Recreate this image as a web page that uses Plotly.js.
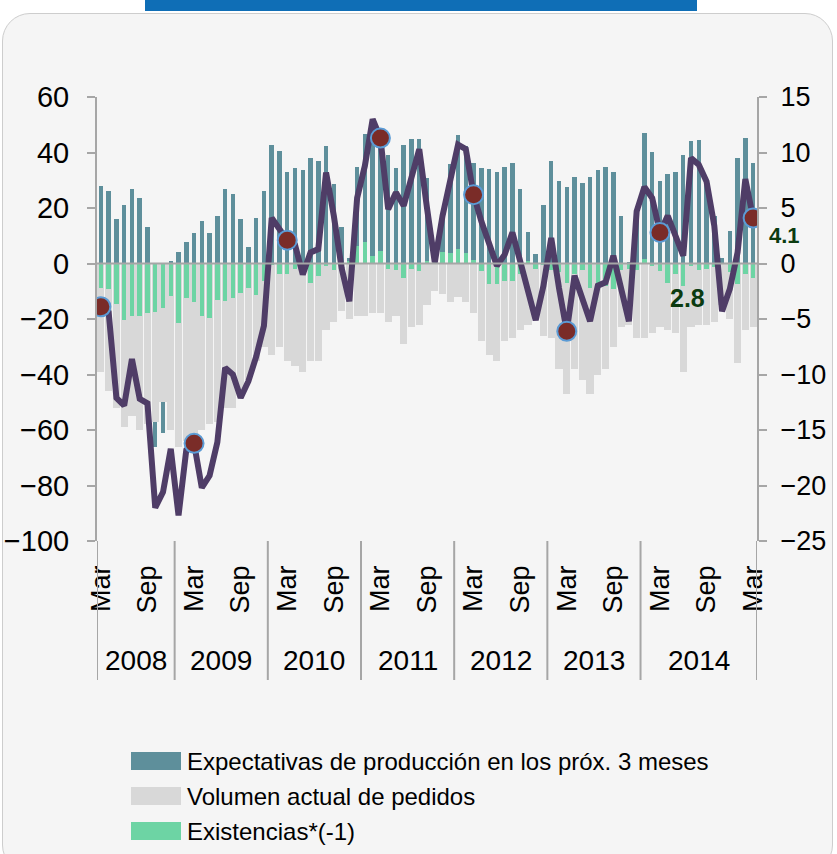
<!DOCTYPE html>
<html>
<head>
<meta charset="utf-8">
<script src="https://cdn.plot.ly/plotly-3.0.1.min.js"></script>
<style>
  html, body { margin:0; padding:0; background:#ffffff; }
  #wrap { position:relative; width:837px; height:854px; overflow:hidden; }
  #panel { position:absolute; left:2px; top:13px; width:831px; height:860px; background:#F5F5F5;
           border:1.5px solid #CDCDCD; border-radius:28px; box-sizing:border-box; }
  #bluebar { position:absolute; left:145px; top:0; width:552px; height:11px; background:#0F6EB6; }
  #chart { position:absolute; left:0; top:0; width:837px; height:854px; }
</style>
</head>
<body>
<div id="wrap">
  <div id="panel"></div>
  <div id="bluebar"></div>
  <div id="chart"></div>
</div>
<script>
// ---- Data (monthly, Mar 2008 .. Mar 2015) ----
const startYear = 2008, startMonth = 3, nMonths = 85;
const monthNames = ['Jan','Feb','Mar','Apr','May','Jun','Jul','Aug','Sep','Oct','Nov','Dec'];

// Expectativas de producción en los próx. 3 meses (left axis)
const expectativas = [
  28, 26, 16, 21, 27, 23.5, 13, -66, -61, 1,
  4.3, 7.8, 11, 15.4, 11, 17, 27, 25, 16, 6, 16.5, 26,
  42.7, 40.6, 32.8, 34.3, 33.7, 38, 37, 42.3, 28.8, 13.3, 2, 34.6,
  46.6, 45, 45, 39, 34.5, 42.7, 44.8, 44.8, 30.7, 2, 16.5, 35.7,
  46.3, 42.3, 36.3, 34.3, 34, 33, 34.6, 36.3, 27, 11.5, 3.4, 21,
  37, 29.7, 27.6, 31.2, 28.9, 31, 33.7, 34.6, 33, 17, 0.7, 19.3,
  47.2, 40.3, 29.7, 32.1, 32.8, 39, 44.1, 44.5, 30, 17, 2, 11.8,
  38, 45.3, 36.3
];
// Volumen actual de pedidos (left axis)
const volumen = [
  -39, -46, -52, -59, -55, -60, -58, -57, -50, -60,
  -66, -64, -64, -60, -58, -57, -52, -52, -46, -42, -35, -30,
  -33, -30, -35, -37, -39, -35, -35, -24, -21, -17, -20, -19,
  -19, -18, -18, -21, -19, -29, -23, -22, -15, -10, -11, -14,
  -12, -14, -18, -28, -33, -35, -28, -27, -24, -22, -20, -26,
  -27, -38, -47, -38, -42, -47, -40, -38, -30, -23, -22, -27,
  -27, -25, -23, -24, -25, -39, -23, -22, -22, -21, -15, -20,
  -36, -24, -23
];
// Existencias*(-1) (left axis)
const existencias = [
  -8.8, -9.3, -14.6, -20.4, -19, -18.9, -17.7, -17.3, -15.9, -11.7,
  -21.6, -12.5, -13.7, -18.9, -19.7, -13.2, -13.5, -12.3, -10.7, -9, -11.3, -6.3,
  -0.5, -3.8, -3.8, -2, -1.5, -6.9, -4.4, -1, -2.4, 0.5, 1, 6.3,
  7.7, 2.7, 4.5, -1.8, -2.4, -5.1, -1.8, -2.7, 1, 1.5, 4, 3.7,
  5.1, 3.8, 1.3, -2.7, -7.4, -7.4, -6.3, -6.3, -3.8, 1, -1.8, -0.5,
  -2.4, -3, -6.9, -3.8, -2.4, -8.7, -6.9, -8, -9.2, -2.4, -1.8, -2.4,
  1.5, -1, -2.7, -6.9, -3.9, -8.1, -1, -2.4, -1.8, -1.2, 0, -3,
  -7.5, -3.8, -5.1
];
// Indicator line (right axis)
const indicador = [
  -3.9, -4.4, -12.1, -12.8, -8.6, -12.2, -12.6, -22.0, -20.6, -16.7,
  -22.7, -16.8, -16.2, -20.2, -19.1, -16.1, -9.4, -10.0, -12.1, -10.6, -8.4, -5.6,
  4.1, 3.2, 2.1, 1.7, -1.0, 1.0, 1.3, 8.2, 4.3, -0.4, -3.4, 5.9,
  8.8, 13.0, 11.3, 4.9, 6.4, 5.2, 7.7, 10.3, 5.0, 0.1, 4.3, 7.4,
  10.7, 10.3, 6.2, 3.8, 1.7, -0.2, 0.8, 2.8, 0.2, -2.7, -5.1, -2.0,
  2.3, -2.2, -6.1, -1.1, -3.0, -5.2, -2.0, -1.7, 0.7, -2.3, -5.2, 4.7,
  6.9, 5.9, 2.8, 4.3, 2.6, 0.7, 9.5, 8.9, 7.4, 3.4, -4.3, -2.3,
  1.0, 7.6, 4.1
];

const seriesNames = ['Expectativas de producción en los próx. 3 meses', 'Volumen actual de pedidos', 'Existencias*(-1)'];
const yearLabels = ['2008','2009','2010','2011','2012','2013','2014'];
const labelledPoints = ['2014-03', '2015-03'];   // value labels shown on the line

// categories
const cats = [];
for (let k = 0; k < nMonths; k++) {
  const m0 = startMonth - 1 + k;
  const y = startYear + Math.floor(m0 / 12);
  const m = (m0 % 12) + 1;
  cats.push(y + '-' + String(m).padStart(2, '0'));
}
const monthOf = c => parseInt(c.slice(5), 10);
const tickvals = cats.filter(c => monthOf(c) === 3 || monthOf(c) === 9);
const ticktext = tickvals.map(c => monthNames[monthOf(c) - 1]);
const marchCats = cats.filter(c => monthOf(c) === 3);
const marchVals = marchCats.map(c => indicador[cats.indexOf(c)]);

// ---- styling ----
const FONT = "'Liberation Sans Narrow', 'Arial Narrow', 'Liberation Sans', Arial, sans-serif";
const colTeal = '#5E8F9B', colGray = '#D8D8D8', colGreen = '#6DD4A4';
const colLine = '#4F3D67', colMarker = '#7A2C28', colMarkerEdge = '#5B9BD5';

const traces = [
  { type:'bar', name:seriesNames[0], x:cats, y:expectativas, marker:{color:colTeal}, width:0.58, showlegend:false, hoverinfo:'x+y' },
  { type:'bar', name:seriesNames[1], x:cats, y:volumen, marker:{color:colGray}, width:0.92, showlegend:false, hoverinfo:'x+y' },
  { type:'bar', name:seriesNames[2], x:cats, y:existencias, marker:{color:colGreen}, width:0.58, showlegend:false, hoverinfo:'x+y' },
  { type:'scatter', mode:'lines', name:'Indicador', x:cats, y:indicador, yaxis:'y2',
    line:{color:colLine, width:6}, showlegend:false },
  { type:'scatter', mode:'markers', name:'Marzo', x:marchCats, y:marchVals, yaxis:'y2',
    marker:{color:colMarker, size:19, line:{color:colMarkerEdge, width:2}}, showlegend:false }
];

// plot geometry (pixels) for paper-coordinate helpers
const W = 837, H = 854, mL = 97, mR = 80, mT = 97, mB = 313;
const pw = W - mL - mR, ph = H - mT - mB;
const pyFromPx = py => (H - mB - py) / ph;
const pxFromPx = px => (px - mL) / pw;

const shapes = [];
const annotations = [];

// zero line
shapes.push({type:'line', xref:'paper', yref:'y', x0:0, x1:1, y0:0, y1:0, line:{color:'#A6A6A6', width:2}, layer:'above'});

// year group dividers
const bounds = [-0.5];
cats.forEach((c, i) => { if (monthOf(c) === 1 && yearLabels.includes(c.slice(0,4))) bounds.push(i - 0.5); });
bounds.push(nMonths - 0.5);
bounds.forEach(b => {
  shapes.push({type:'line', xref:'x', yref:'paper', x0:b, x1:b, y0:0, y1:pyFromPx(680), line:{color:'#A6A6A6', width:2}});
});
yearLabels.forEach((lab, k) => {
  annotations.push({xref:'x', yref:'paper', x:(bounds[k] + bounds[k+1]) / 2, y:pyFromPx(660),
    text:lab, showarrow:false, font:{family:FONT, size:28, color:'#000'}, xanchor:'center', yanchor:'middle'});
});

// value labels on the line
const labelOffsets = [[28, -66], [31, -18]];
const labelSizes = [25, 22];
labelledPoints.forEach((c, k) => {
  const v = indicador[cats.indexOf(c)];
  annotations.push({xref:'x', yref:'y2', x:c, y:v, text:'<b>' + v.toFixed(1) + '</b>', showarrow:false,
    xshift:labelOffsets[k][0], yshift:labelOffsets[k][1],
    font:{family:FONT, size:labelSizes[k], color:'#0B3B10'}, xanchor:'center', yanchor:'middle'});
});

// custom legend
const legendColors = [colTeal, colGray, colGreen];
const legendRows = [761, 796, 831];
seriesNames.forEach((nm, k) => {
  const cy = legendRows[k];
  shapes.push({type:'rect', xref:'paper', yref:'paper', x0:pxFromPx(131), x1:pxFromPx(181),
    y0:pyFromPx(cy + 9), y1:pyFromPx(cy - 9), fillcolor:legendColors[k], line:{width:0}});
  annotations.push({xref:'paper', yref:'paper', x:pxFromPx(185), y:pyFromPx(cy), text:nm, showarrow:false,
    xanchor:'left', yanchor:'middle', font:{family:FONT, size:24, color:'#000'}});
});

const layout = {
  width:W, height:H,
  margin:{l:mL, r:mR, t:mT, b:mB, pad:0},
  paper_bgcolor:'rgba(0,0,0,0)', plot_bgcolor:'rgba(0,0,0,0)',
  barmode:'overlay', bargap:0,
  font:{family:FONT, color:'#000'},
  showlegend:false,
  xaxis:{type:'category', categoryorder:'array', categoryarray:cats, range:[-0.5, nMonths - 0.5],
    tickmode:'array', tickvals:tickvals, ticktext:ticktext, tickangle:-90,
    tickfont:{family:FONT, size:27, color:'#000'}, ticks:'', showline:false, showgrid:false, zeroline:false,
    ticklabelstandoff:18, fixedrange:true},
  yaxis:{range:[-100, 60], dtick:20, tick0:0, showline:true, linecolor:'#A6A6A6', linewidth:2,
    ticks:'outside', ticklen:8, tickwidth:2, tickcolor:'#A6A6A6', showgrid:false, zeroline:false,
    tickfont:{family:FONT, size:29, color:'#000'}, ticklabelstandoff:12},
  yaxis2:{range:[-25, 15], dtick:5, tick0:0, overlaying:'y', side:'right', showline:true, linecolor:'#A6A6A6', linewidth:2,
    ticks:'outside', ticklen:8, tickwidth:2, tickcolor:'#A6A6A6', showgrid:false, zeroline:false,
    tickfont:{family:FONT, size:27, color:'#000'}, ticklabelstandoff:8},
  shapes:shapes,
  annotations:annotations
};

Plotly.newPlot('chart', traces, layout, {staticPlot:true, displayModeBar:false});
</script>
</body>
</html>
